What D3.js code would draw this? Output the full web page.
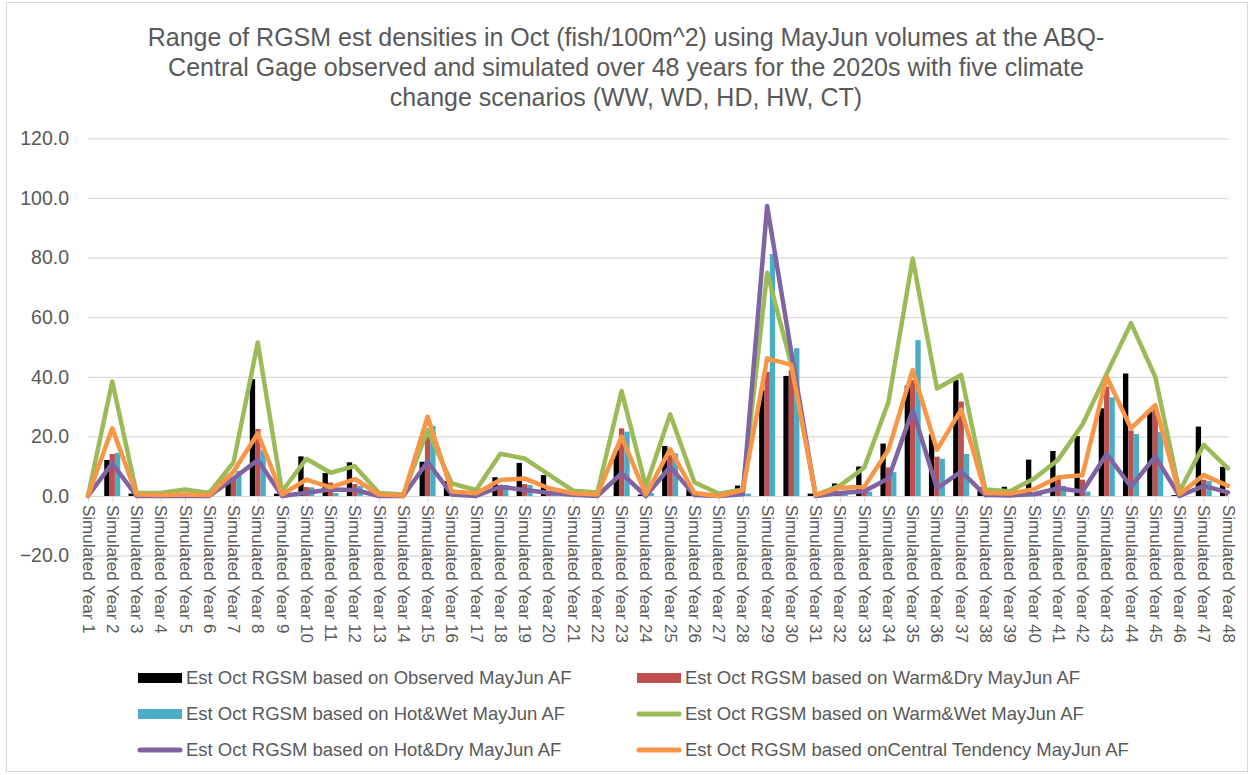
<!DOCTYPE html>
<html>
<head>
<meta charset="utf-8">
<script src="https://cdn.jsdelivr.net/npm/d3@7/dist/d3.min.js"></script>
<style>
    body { margin: 0; background: #ffffff; }
    text { font-family: "Liberation Sans Narrow", "Liberation Sans", sans-serif; fill: #595959; }
</style>
</head>
<body>
<div id="canvas"></div>
<script>
"use strict"

/* ***** chart data ***** */
let titleLines = [
    "Range of RGSM est densities in Oct (fish/100m^2) using MayJun volumes at the ABQ-",
    "Central Gage observed and simulated over 48 years for the 2020s with five climate",
    "change scenarios (WW, WD, HD, HW, CT)"
];

let years = d3.range(1, 49).map(n => "Simulated Year " + n);

let yTicks = [-20, 0, 20, 40, 60, 80, 100, 120];

// bar series
let observed = [0, 12.1, 0.8, 0, 0, 0, 4.8, 39.2, 0.8, 13.3, 7.7, 11.3, 0, 0, 11.5, 5.0,
    0, 6.3, 11.1, 7.0, 0, 0, 15.4, 0.5, 16.8, 4.0, 0, 3.5, 35.5, 40.3, 0.8, 4.2,
    9.9, 17.6, 37.0, 20.7, 39.0, 2.9, 3.1, 12.2, 15.1, 20.1, 29.4, 41.1, 28.3, 0.3, 23.3, 9.8];
let warmDry = [0, 14.1, 0, 0, 0, 0, 6.0, 22.5, 0, 3.0, 4.5, 4.0, 0, 0, 20.0, 0.5,
    0, 3.0, 4.0, 1.0, 0, 0, 22.7, 0.3, 13.8, 1.0, 0, 0.5, 41.7, 42.3, 0, 1.0,
    2.0, 9.6, 38.9, 13.2, 31.7, 0.5, 0.5, 1.0, 6.5, 5.5, 36.7, 22.0, 29.5, 0, 5.5, 1.5];
let hotWet = [0, 14.5, 0, 0, 0, 0, 8.5, 15.4, 0, 2.9, 1.0, 3.4, 0, 0, 23.5, 0.5,
    0, 3.7, 3.7, 0.8, 0, 0, 21.6, 1.0, 14.3, 0.5, 0, 0.8, 81.2, 49.6, 0, 0.5,
    1.5, 8.0, 52.3, 12.5, 14.1, 0.3, 0.3, 0.5, 3.4, 1.5, 33.1, 20.8, 21.5, 0, 5.1, 1.0];

// line series
let warmWet = [0, 38.4, 1.0, 1.0, 2.2, 1.0, 11.3, 51.5, 1.5, 12.5, 7.8, 10.0, 1.0, 0.5, 22.1, 4.2,
    2.0, 14.2, 12.6, 7.2, 1.8, 1.2, 35.2, 3.2, 27.4, 4.6, 0.8, 2.2, 74.9, 44.0, 0.3, 3.5,
    9.5, 31.5, 79.7, 36.1, 40.6, 2.2, 1.6, 5.8, 12.2, 24.0, 41.0, 58.0, 40.0, 1.5, 17.2, 9.3];
let hotDry = [0, 11.0, 0, 0, 0, 0, 5.9, 12.1, 0, 1.1, 2.2, 2.0, 0, 0, 11.5, 0.5,
    0, 3.1, 2.0, 1.1, 0.4, 0, 7.6, 0, 9.8, 0.3, 0, 0.6, 97.3, 48.0, 0, 1.0,
    1.6, 5.9, 28.9, 2.6, 8.2, 0.3, 0.2, 0.6, 2.6, 1.5, 14.1, 3.1, 13.2, 0, 3.4, 1.2];
let centralTend = [0, 22.7, 0.5, 0.3, 0.5, 0.3, 8.2, 21.0, 0.5, 5.5, 2.9, 5.7, 0.5, 0.2, 26.6, 1.5,
    0.9, 5.4, 5.9, 2.6, 0.9, 0.5, 19.9, 0.5, 15.7, 1.0, 0, 2.0, 46.2, 44.0, 0.3, 2.8,
    3.0, 15.5, 42.3, 15.5, 29.0, 1.0, 0.8, 2.3, 6.3, 7.0, 40.0, 22.7, 30.5, 0.6, 7.0, 3.4];

let barNames = [
    "Est Oct RGSM based on Observed MayJun AF",
    "Est Oct RGSM based on Warm&Dry MayJun AF",
    "Est Oct RGSM based on Hot&Wet MayJun AF"
];
let lineNames = [
    "Est Oct RGSM based on Warm&Wet MayJun AF",
    "Est Oct RGSM based on Hot&Dry MayJun AF",
    "Est Oct RGSM based onCentral Tendency MayJun AF"
];
let barColors = ["#000000", "#c0504d", "#4bacc6"];
let lineColors = ["#9bbb59", "#8064a2", "#f79646"];

/* ***** canvas ***** */
let drawing = d3.select("#canvas")
    .append("svg")
    .attr("width", 1251)
    .attr("height", 775);

drawing.append("rect")
    .attr("x", 6.5)
    .attr("y", 2.5)
    .attr("width", 1241)
    .attr("height", 769)
    .attr("fill", "#ffffff")
    .attr("stroke", "#d9d9d9");

// title
drawing.append("g")
    .selectAll("text")
    .data(titleLines)
    .join("text")
    .attr("x", 626)
    .attr("y", (d, i) => 46 + i * 30)
    .attr("text-anchor", "middle")
    .style("font-size", "25px")
    .text(d => d);

/* ***** scales ***** */
let left = 88, right = 1228;
let x = d3.scalePoint().domain(years).range([left, right]);
let y = d3.scaleLinear().domain([-20, 120]).range([555.6, 138.4]);
let inner = d3.scaleBand().domain(d3.range(3)).range([-8, 8]);

// gridlines + y labels
let yAxis = drawing.append("g")
    .attr("transform", `translate(${left},0)`)
    .call(d3.axisLeft(y).tickValues(yTicks).tickFormat(d3.format(".1f")).tickSize(-(right - left)));
yAxis.select(".domain").remove();
yAxis.selectAll(".tick line").attr("stroke", "#d9d9d9").attr("stroke-width", 1.2);
yAxis.selectAll(".tick text")
    .attr("x", -19)
    .style("font-size", "19.5px")
    .style("font-family", null);

// category ticks + labels
let xAxis = drawing.append("g")
    .attr("transform", `translate(0,${y(0)})`)
    .call(d3.axisBottom(x).tickSize(6).tickSizeOuter(0));
xAxis.select(".domain").attr("stroke", "#d9d9d9").attr("stroke-width", 1.2);
xAxis.selectAll(".tick line").attr("stroke", "#d9d9d9");
xAxis.selectAll(".tick text")
    .attr("y", 0)
    .attr("dy", "0.35em")
    .attr("transform", "translate(0,9) rotate(90)")
    .attr("text-anchor", "start")
    .style("font-size", "17px")
    .style("font-family", null);
drawing.selectAll(".tick text").style("fill", "#595959").attr("fill", null);

/* ***** bars ***** */
drawing.append("clipPath")
    .attr("id", "plotClip")
    .append("rect")
    .attr("x", left)
    .attr("y", 0)
    .attr("width", right - left)
    .attr("height", 775);

let barSeries = [observed, warmDry, hotWet];
let bars = drawing.append("g").attr("clip-path", "url(#plotClip)");
barSeries.forEach((vals, s) => {
    bars.append("g")
        .selectAll("rect")
        .data(vals)
        .join("rect")
        .attr("x", (d, i) => x(years[i]) + inner(s))
        .attr("width", inner.bandwidth())
        .attr("y", d => y(Math.max(0, d)))
        .attr("height", d => Math.abs(y(d) - y(0)))
        .attr("fill", barColors[s]);
});

/* ***** lines ***** */
let lineSeries = [warmWet, hotDry, centralTend];
let line = d3.line()
    .x((d, i) => x(years[i]))
    .y(d => y(d));
lineSeries.forEach((vals, s) => {
    drawing.append("path")
        .datum(vals)
        .attr("d", line)
        .attr("fill", "none")
        .attr("stroke", lineColors[s])
        .attr("stroke-width", 4.5)
        .attr("stroke-linejoin", "round")
        .attr("stroke-linecap", "round");
});

/* ***** legend ***** */
let legendItems = [
    { name: barNames[0], color: barColors[0], kind: "bar" },
    { name: barNames[1], color: barColors[1], kind: "bar" },
    { name: barNames[2], color: barColors[2], kind: "bar" },
    { name: lineNames[0], color: lineColors[0], kind: "line" },
    { name: lineNames[1], color: lineColors[1], kind: "line" },
    { name: lineNames[2], color: lineColors[2], kind: "line" }
];
let legend = drawing.append("g");
legendItems.forEach((item, i) => {
    let lx = (i % 2 == 0) ? 138 : 637;
    let ly = 678 + Math.floor(i / 2) * 36;
    let g = legend.append("g").attr("transform", `translate(${lx},${ly})`);
    if (item.kind == "bar") {
        g.append("rect")
            .attr("x", 0)
            .attr("y", -5)
            .attr("width", 44)
            .attr("height", 10)
            .attr("fill", item.color);
    } else {
        g.append("line")
            .attr("x1", 2)
            .attr("x2", 42)
            .attr("stroke", item.color)
            .attr("stroke-width", 5)
            .attr("stroke-linecap", "round");
    }
    g.append("text")
        .attr("x", 48)
        .attr("dy", "0.35em")
        .style("font-size", "18.5px")
        .text(item.name);
});
</script>
</body>
</html>
